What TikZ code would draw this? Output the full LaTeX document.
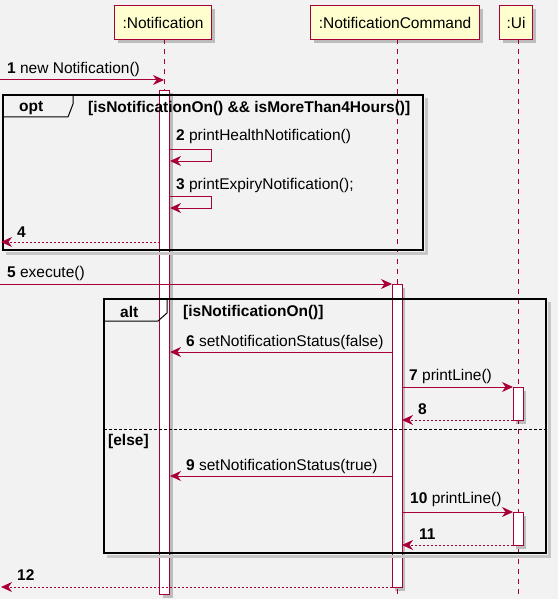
\documentclass[tikz,border=0pt]{standalone}
\usepackage{fontspec}
\setmainfont{Liberation Sans}
\usetikzlibrary{arrows.meta,shadows}
\definecolor{bg}{HTML}{F2F2F2}
\definecolor{pu}{HTML}{A80036}
\definecolor{pfill}{HTML}{FEFECE}
\begin{document}
\begin{tikzpicture}[x=1pt,y=-1pt,
  font=\fontsize{15.5}{18}\selectfont,
  myshadow/.style={drop shadow={shadow xshift=3pt,shadow yshift=-3pt,fill=black,opacity=0.22}},
  lifeline/.style={draw=pu,line width=0.8pt,dash pattern=on 5pt off 5pt},
  participant/.style={draw=pu,fill=pfill,line width=1.1pt,minimum height=34pt,inner sep=0pt,anchor=north west,myshadow},
  actbar/.style={draw=pu,fill=white,line width=1pt,minimum width=10pt,inner sep=0pt,anchor=north,myshadow},
  msg/.style={draw=pu,line width=1pt,-{Stealth[length=11pt,width=10pt,inset=3.5pt]}},
  ret/.style={msg,dash pattern=on 2pt off 2pt},
  lbl/.style={anchor=west,inner sep=0pt,text=black},
  framebox/.style={draw=black,line width=1.6pt},
  frameshadow/.style={draw=black!22,line width=3pt},
  tabline/.style={draw=black,line width=1pt},
  elseline/.style={draw=black,line width=0.8pt,dash pattern=on 3pt off 2pt}
]
\useasboundingbox (0,0) rectangle (558,599);
\fill[bg] (0,0) rectangle (558,599);

% participants
\node[participant,minimum width=97pt] (pN) at (114,5) {:Notification};
\node[participant,minimum width=169pt] (pC) at (310,5) {:NotificationCommand};
\node[participant,minimum width=33pt] (pU) at (499,5) {:Ui};

% lifelines
\coordinate (lNtop) at (164.5,39);  \coordinate (lNbot) at (164.5,599);
\coordinate (lCtop) at (397,39);    \coordinate (lCbot) at (397,599);
\coordinate (lUtop) at (518,39);    \coordinate (lUbot) at (518,599);
\draw[lifeline] (lNtop) -- (lNbot);
\draw[lifeline] (lCtop) -- (lCbot);
\draw[lifeline] (lUtop) -- (lUbot);

% activation bars
\node[actbar,minimum height=504pt] (aN) at (164.5,90) {};
\node[actbar,minimum height=303pt] (aC) at (397,284) {};
\node[actbar,minimum height=33pt] (aU1) at (518,387) {};
\node[actbar,minimum height=33pt] (aU2) at (518,512) {};

% frames
\draw[frameshadow] (426,98) -- (426,253) -- (6,253);
\draw[framebox] (3,95) rectangle (423,250);
\draw[tabline] (3,117) -- (68,117) -- (73,104) -- (73,95);
\node[lbl,font=\fontsize{15.5}{18}\selectfont\bfseries] (optl) at (19,108) {opt};
\node[lbl,font=\fontsize{15.5}{18}\selectfont\bfseries] (optc) at (88,108) {[isNotificationOn() \&\& isMoreThan4Hours()]};

\draw[frameshadow] (549,302) -- (549,556) -- (107,556);
\draw[framebox] (104,299) rectangle (546,553);
\draw[tabline] (104,321) -- (158,321) -- (167,313) -- (167,299);
\node[lbl,font=\fontsize{15.5}{18}\selectfont\bfseries] (altl) at (120,312) {alt};
\node[lbl,font=\fontsize{15.5}{18}\selectfont\bfseries] (altc) at (183,312) {[isNotificationOn()]};
\coordinate (elseL) at (104,429); \coordinate (elseR) at (546,429);
\draw[elseline] (elseL) -- (elseR);
\node[lbl,font=\fontsize{15.5}{18}\selectfont\bfseries] (elsel) at (108,441) {[else]};

% message endpoints
\coordinate (m1s) at (0,80);     \coordinate (m1e) at (164,80);
\coordinate (m4s) at (160,242);  \coordinate (m4e) at (1,242);
\coordinate (m5s) at (0,284);    \coordinate (m5e) at (392,284);
\coordinate (m6s) at (392,352);  \coordinate (m6e) at (170,352);
\coordinate (m7s) at (402,387);  \coordinate (m7e) at (513,387);
\coordinate (m8s) at (513,420);  \coordinate (m8e) at (402,420);
\coordinate (m9s) at (392,476);  \coordinate (m9e) at (170,476);
\coordinate (m10s) at (402,512); \coordinate (m10e) at (513,512);
\coordinate (m11s) at (513,545); \coordinate (m11e) at (402,545);
\coordinate (m12s) at (392,587); \coordinate (m12e) at (1,587);

% messages
\draw[msg] (m1s) -- (m1e);
\draw[msg] (169,149) -- (211,149) -- (211,161) -- (170,161);
\draw[msg] (169,196) -- (211,196) -- (211,208) -- (170,208);
\draw[ret] (m4s) -- (m4e);
\draw[msg] (m5s) -- (m5e);
\draw[msg] (m6s) -- (m6e);
\draw[msg] (m7s) -- (m7e);
\draw[ret] (m8s) -- (m8e);
\draw[msg] (m9s) -- (m9e);
\draw[msg] (m10s) -- (m10e);
\draw[ret] (m11s) -- (m11e);
\draw[ret] (m12s) -- (m12e);

% labels
\node[lbl] (t1) at (7,69) {\textbf{1} new Notification()};
\node[lbl] (t2) at (176,136) {\textbf{2} printHealthNotification()};
\node[lbl] (t3) at (176,185) {\textbf{3} printExpiryNotification();};
\node[lbl] (t4) at (17,232) {\textbf{4}};
\node[lbl] (t5) at (7,273) {\textbf{5} execute()};
\node[lbl] (t6) at (186,342) {\textbf{6} setNotificationStatus(false)};
\node[lbl] (t7) at (409,376) {\textbf{7} printLine()};
\node[lbl] (t8) at (418,409) {\textbf{8}};
\node[lbl] (t9) at (186,466) {\textbf{9} setNotificationStatus(true)};
\node[lbl] (t10) at (410,499) {\textbf{10} printLine()};
\node[lbl] (t11) at (419,534) {\textbf{11}};
\node[lbl] (t12) at (17,575) {\textbf{12}};
\end{tikzpicture}
\end{document}
